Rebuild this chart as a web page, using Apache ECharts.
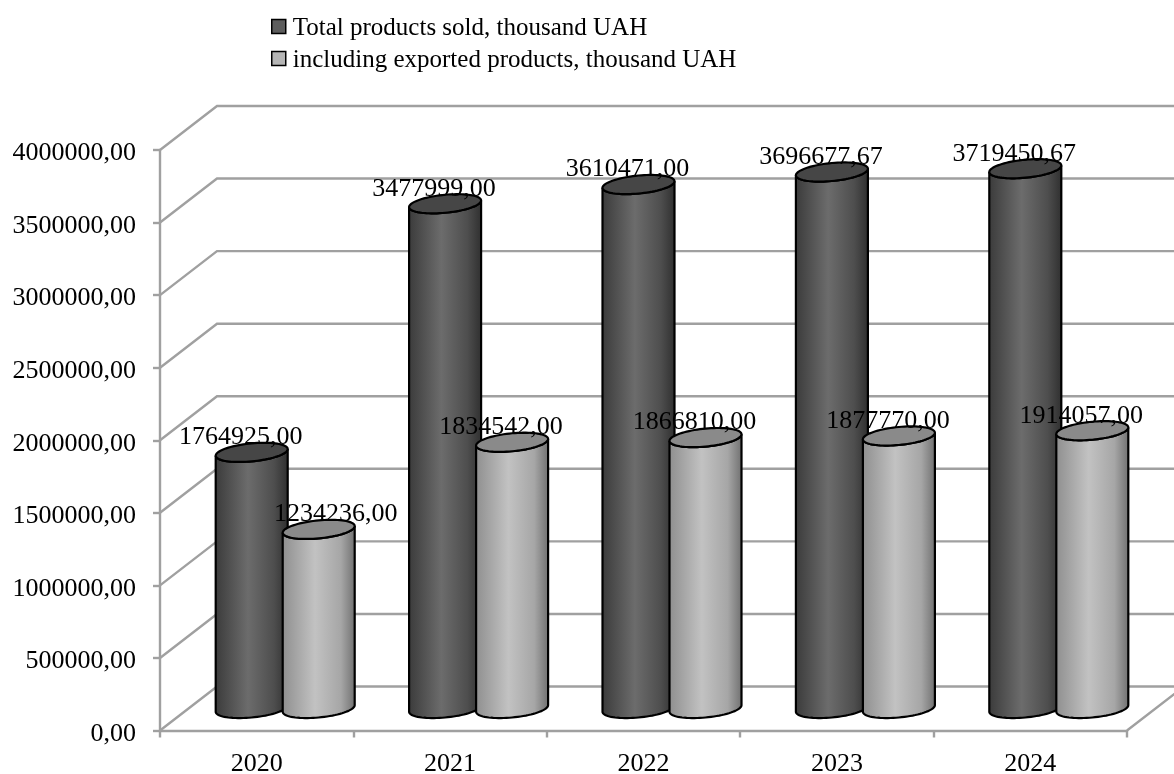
<!DOCTYPE html>
<html>
<head>
<meta charset="utf-8">
<style>
  html, body { margin: 0; padding: 0; background: #fff; }
  #chart { width: 1174px; height: 774px; }
</style>
<script src="https://cdn.jsdelivr.net/npm/echarts@6/dist/echarts.min.js"></script>
</head>
<body>
<div id="chart"></div>
<script>
// Product sales by year, in thousand UAH
const years = ['2020', '2021', '2022', '2023', '2024'];
const totalSold = [1764925.00, 3477999.00, 3610471.00, 3696677.67, 3719450.67];
const exported = [1234236.00, 1834542.00, 1866810.00, 1877770.00, 1914057.00];
const valueTicks = [0, 500000, 1000000, 1500000, 2000000, 2500000, 3000000, 3500000, 4000000];

const SERIF = '"Liberation Serif", "Times New Roman", serif';
const GRID_GRAY = '#a0a0a0';

// Oblique projection used for the 3D box: how far the back wall sits from the front plane
const DEPTH_X = 57;
const DEPTH_Y = -44;
// Cylinder proportions, in pixels
const RADIUS_X = 36;
const RADIUS_Y = 9;
const SHEAR = 3.3;
const SERIES_SHIFT = 33.5;

const fmt = v => v.toFixed(2).replace('.', ',');

function arc(cx, cy, from, to, steps) {
  const pts = [];
  for (let i = 0; i <= steps; i++) {
    const t = from + (to - from) * i / steps;
    pts.push([cx + RADIUS_X * Math.cos(t), cy + RADIUS_Y * Math.sin(t) - SHEAR * Math.cos(t)]);
  }
  return pts;
}

function cylinderRenderer(side, colors, capColor, labelShift) {
  return function (params, api) {
    const idx = api.value(0);
    const value = api.value(1);
    const top = api.coord([idx, value]);
    const base = api.coord([idx, 0]);
    const cx = top[0] + DEPTH_X / 2 + side * SERIES_SHIFT;
    const topY = top[1] + DEPTH_Y / 2;
    const baseY = base[1] + DEPTH_Y / 2;
    // Body outline: far half of the top rim is hidden by the cap, near half of the base is visible
    const body = arc(cx, topY, Math.PI, 0, 40).concat(arc(cx, baseY, 0, Math.PI, 40));
    const cap = arc(cx, topY, 0, Math.PI * 2, 80);
    const shift = labelShift(idx);
    return {
      type: 'group',
      children: [
        {
          type: 'polygon',
          shape: { points: body },
          style: {
            fill: {
              type: 'linear', x: 0, y: 0, x2: 1, y2: 0,
              colorStops: colors.map(c => ({ offset: c[0], color: c[1] }))
            },
            stroke: '#000',
            lineWidth: 2.2
          }
        },
        {
          type: 'polygon',
          shape: { points: cap },
          style: { fill: capColor, stroke: '#000', lineWidth: 2.2 }
        },
        {
          type: 'text',
          z2: 10,
          style: {
            x: cx + shift,
            y: topY - 15,
            text: fmt(value),
            font: '26px ' + SERIF,
            fill: '#000',
            align: 'center',
            verticalAlign: 'middle'
          }
        }
      ]
    };
  };
}

function wallRenderer(params, api) {
  const v = api.value(0);
  const start = api.coord([0, v]);
  const left = start[0] - api.size([1, 0])[0] / 2;
  const right = left + api.size([1, 0])[0] * years.length;
  const pts = [[left, start[1]], [left + DEPTH_X, start[1] + DEPTH_Y], [right + DEPTH_X, start[1] + DEPTH_Y]];
  if (v === 0) pts.push([right, start[1]]);
  return {
    type: 'polyline',
    shape: { points: pts },
    style: { fill: null, stroke: GRID_GRAY, lineWidth: 2.4 }
  };
}

const chart = echarts.init(document.getElementById('chart'), null, { renderer: 'canvas' });
chart.setOption({
  animation: false,
  backgroundColor: '#fff',
  grid: { left: 160, right: 47, top: 150, bottom: 43.5, containLabel: false, outerBoundsMode: 'none' },
  legend: {
    orient: 'vertical',
    left: 266,
    top: 11,
    itemWidth: 14,
    itemHeight: 14,
    itemGap: 7,
    icon: 'rect',
    formatter: name => '{t|' + name + '}',
    textStyle: {
      rich: { t: { fontFamily: SERIF, fontSize: 25, color: '#000', padding: [4, 0, 0, 2] } }
    },
    data: [
      { name: 'Total products sold, thousand UAH', itemStyle: { color: '#5d5d5d', borderColor: '#000', borderWidth: 1.5 } },
      { name: 'including exported products, thousand UAH', itemStyle: { color: '#b5b5b5', borderColor: '#000', borderWidth: 1.5 } }
    ]
  },
  xAxis: {
    type: 'category',
    data: years,
    boundaryGap: true,
    axisLine: { lineStyle: { color: GRID_GRAY, width: 2.4 } },
    axisTick: { show: true, length: 7, lineStyle: { color: GRID_GRAY, width: 2.4 } },
    axisLabel: { color: '#000', fontFamily: SERIF, fontSize: 26, margin: 21 },
    splitLine: { show: false }
  },
  yAxis: {
    type: 'value',
    min: 0,
    max: 4000000,
    interval: 500000,
    axisLine: { show: true, lineStyle: { color: GRID_GRAY, width: 2.4 } },
    axisTick: { show: true, length: 7, lineStyle: { color: GRID_GRAY, width: 2.4 } },
    axisLabel: {
      margin: 24,
      formatter: v => '{v|' + fmt(v) + '}',
      rich: { v: { color: '#000', fontFamily: SERIF, fontSize: 26, padding: [7, 0, 0, 0] } }
    },
    splitLine: { show: false }
  },
  series: [
    {
      type: 'custom',
      name: 'walls',
      z: 1,
      renderItem: wallRenderer,
      encode: { y: 0 },
      data: valueTicks.map(v => [v]),
      silent: true
    },
    {
      type: 'custom',
      name: 'Total products sold, thousand UAH',
      z: 2,
      itemStyle: { color: '#5d5d5d' },
      renderItem: cylinderRenderer(-1, [
        [0, '#3a3a3a'], [0.45, '#6c6c6c'], [0.8, '#4e4e4e'], [1, '#2e2e2e']
      ], '#464646', () => -11),
      encode: { x: 0, y: 1 },
      data: totalSold.map((v, i) => [i, v])
    },
    {
      type: 'custom',
      name: 'including exported products, thousand UAH',
      z: 3,
      itemStyle: { color: '#b5b5b5' },
      renderItem: cylinderRenderer(1, [
        [0, '#8e8e8e'], [0.45, '#c2c2c2'], [0.8, '#a6a6a6'], [1, '#6e6e6e']
      ], '#8a8a8a', i => (i === 0 ? 17 : -11)),
      encode: { x: 0, y: 1 },
      data: exported.map((v, i) => [i, v])
    }
  ]
});
</script>
</body>
</html>
